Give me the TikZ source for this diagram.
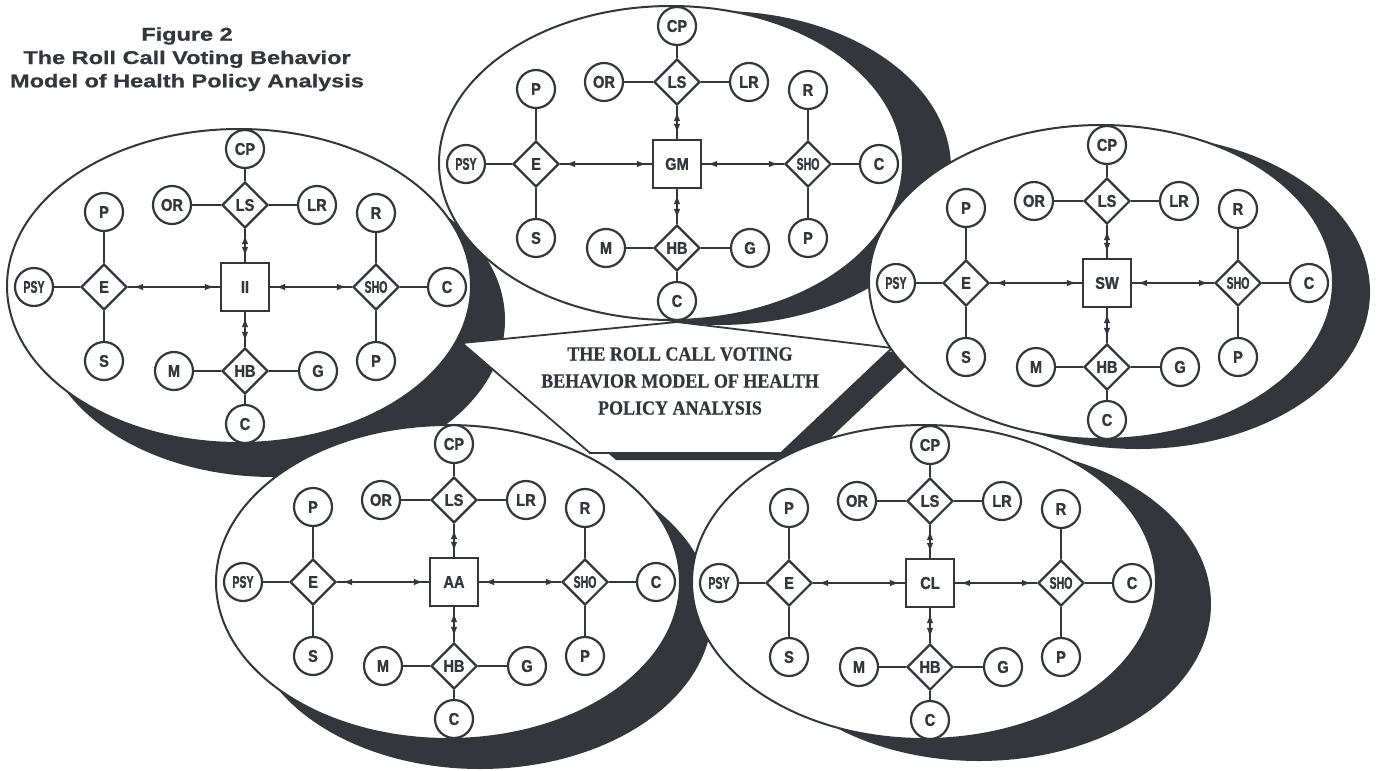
\documentclass[tikz,border=0pt]{standalone}
\usepackage{fontspec}
\setmainfont{Liberation Serif}
\newfontfamily\lblfont{Liberation Sans}[FakeStretch=0.86, FakeBold=1.2]
\newfontfamily\lblnarrow{Liberation Sans}[FakeStretch=0.62, FakeBold=1.2]
\newfontfamily\ttlfont{Liberation Sans}[FakeStretch=1.27, FakeBold=0.8]
\newfontfamily\bnrfont{Liberation Serif}[FakeStretch=0.9, FakeBold=0.6]
\usetikzlibrary{shapes.geometric,arrows.meta,decorations.markings}
\definecolor{ink}{HTML}{33373C}

\tikzset{
  outline/.style={draw=ink, line width=2.2pt},
  lbl/.style={text=ink, font=\lblfont\bfseries\fontsize{17}{17}\selectfont},
  narrowlbl/.style={text=ink, font=\lblnarrow\bfseries\fontsize{17}{17}\selectfont},
  attr/.style={circle, outline, fill=white, minimum size=38pt, inner sep=0pt, lbl},
  rel/.style={diamond, outline, fill=white, minimum width=46pt, minimum height=46pt, inner sep=0pt, lbl},
  hubbox/.style={rectangle, outline, fill=white, minimum size=48pt, inner sep=0pt, lbl},
  link/.style={draw=ink, line width=2pt},
  twoway/.style={link, postaction={decorate},
    decoration={markings,
      mark=at position 5pt with {\arrowreversed[ink]{Latex[length=10pt,width=6.5pt]}},
      mark=at position -5pt with {\arrow[ink]{Latex[length=10pt,width=6.5pt]}}}},
  shadowfill/.style={fill=ink},
  model/.style={fill=white, draw=ink, line width=2pt},
  ttl/.style={anchor=base, text=ink, font=\ttlfont\bfseries\fontsize{18.5}{23}\selectfont}
}

% one sub-model: hub square with its four relation diamonds and their attributes
\newcommand\votingmodel[4]{%
  \begin{scope}[shift={(#2,#3)}]
    \node[hubbox] (#1-hub) at (0,0) {#4};
    \node[rel] (#1-E) at (-141,0) {E};
    \node[attr, narrowlbl] (#1-PSY) at (-211,0) {PSY};
    \node[attr] (#1-P1) at (-141,-75) {P};
    \node[attr] (#1-S) at (-141,74) {S};
    \node[rel] (#1-LS) at (0,-82) {LS};
    \node[attr] (#1-CP) at (0,-138) {CP};
    \node[attr] (#1-OR) at (-73,-82) {OR};
    \node[attr] (#1-LR) at (72,-82) {LR};
    \node[rel] (#1-HB) at (0,84) {HB};
    \node[attr] (#1-M) at (-71,84) {M};
    \node[attr] (#1-G) at (73,84) {G};
    \node[attr] (#1-C1) at (0,137) {C};
    \node[rel, narrowlbl] (#1-SHO) at (131,0) {SHO};
    \node[attr] (#1-C2) at (202,0) {C};
    \node[attr] (#1-R) at (131,-74) {R};
    \node[attr] (#1-P2) at (131,74) {P};
    \draw[link] (#1-PSY) -- (#1-E);
    \draw[link] (#1-P1) -- (#1-E);
    \draw[link] (#1-S) -- (#1-E);
    \draw[link] (#1-OR) -- (#1-LS);
    \draw[link] (#1-LR) -- (#1-LS);
    \draw[link] (#1-CP) -- (#1-LS);
    \draw[link] (#1-M) -- (#1-HB);
    \draw[link] (#1-G) -- (#1-HB);
    \draw[link] (#1-C1) -- (#1-HB);
    \draw[link] (#1-R) -- (#1-SHO);
    \draw[link] (#1-P2) -- (#1-SHO);
    \draw[link] (#1-C2) -- (#1-SHO);
    \draw[twoway] (#1-E) -- (#1-hub);
    \draw[twoway] (#1-hub) -- (#1-SHO);
    \draw[twoway] (#1-LS) -- (#1-hub);
    \draw[twoway] (#1-hub) -- (#1-HB);
  \end{scope}}

\begin{document}
\begin{tikzpicture}[x=1pt,y=-1pt]
\useasboundingbox (0,0) rectangle (1379,771);
\fill[white] (0,0) rectangle (1379,771);

% drop shadows of the five ovals
\foreach \cx/\cy/\dx/\dy in {239/286/34/34, 671/163/48/5, 1101/282/37/10, 448/582/32/30, 924/582/55/22}
  \fill[shadowfill] (\cx+\dx,\cy+\dy) ellipse [x radius=232, y radius=157];

% central banner with its shadow
\coordinate (bL) at (462,343);
\coordinate (bT) at (677,322);
\coordinate (bR) at (892,348);
\coordinate (bBR) at (781,453);
\coordinate (bBL) at (590,453);
\fill[shadowfill] ([shift={(26,7)}]bL) -- ([shift={(26,7)}]bT) -- ([shift={(26,7)}]bR)
  -- ([shift={(26,7)}]bBR) -- ([shift={(26,7)}]bBL) -- cycle;
\filldraw[fill=white, draw=ink, line width=1.8pt] (bL) -- (bT) -- (bR) -- (bBR) -- (bBL) -- cycle;
\node[align=center, text=ink, font=\bnrfont\bfseries\fontsize{20}{27}\selectfont] (banner) at (680,381)
  {THE ROLL CALL VOTING\\BEHAVIOR MODEL OF HEALTH\\POLICY ANALYSIS};

% the five ovals
\foreach \cx/\cy in {239/286, 671/163, 1101/282, 448/582, 924/582}
  \filldraw[model] (\cx,\cy) ellipse [x radius=232, y radius=157];

\votingmodel{ii}{245}{287}{II}
\votingmodel{gm}{677}{164}{GM}
\votingmodel{sw}{1107}{283}{SW}
\votingmodel{aa}{454}{582}{AA}
\votingmodel{cl}{930}{583}{CL}

% caption
\node[ttl] (title1) at (187,40.7) {Figure 2};
\node[ttl] (title2) at (187,64) {The Roll Call Voting Behavior};
\node[ttl] (title3) at (187,87.3) {Model of Health Policy Analysis};
\end{tikzpicture}
\end{document}
